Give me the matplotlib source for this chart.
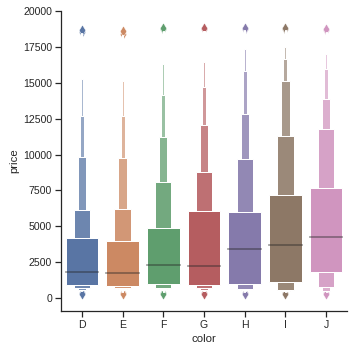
import colorsys
import matplotlib
matplotlib.use("Agg")
import matplotlib.pyplot as plt
import matplotlib.colors as mcolors

# ---- data ----
categories = ["D", "E", "F", "G", "H", "I", "J"]
medians = [1838, 1739, 2344, 2242, 3460, 3730, 4234]
# letter-value box ends, level 1 (quartiles) to level 6
upper_L1 = [4214, 4003, 4868, 6048, 5980, 7202, 7695]
lower_L1 = [911, 882, 982, 931, 984, 1120, 1860]
upper_L2 = [6130, 6220, 8076, 8770, 9673, 11270, 11757]
lower_L2 = [700, 700, 715, 715, 650, 576, 785]
upper_L3 = [9833, 9743, 11222, 12028, 12798, 15090, 13840]
lower_L3 = [610, 620, 620, 610, 576, 520, 507]
upper_L4 = [12660, 12660, 14138, 14694, 15784, 16618, 15923]
lower_L4 = [590, 600, 600, 590, 556, 500, 490]
upper_L5 = [15229, 15090, 16270, 16430, 17312, 17472, 16965]
lower_L5 = [570, 580, 580, 570, 536, 490, 480]
upper_L6 = [18420, 18330, 18620, 18620, 18640, 18640, 18550]
lower_L6 = [480, 470, 470, 480, 460, 440, 440]
n_levels = [8, 8, 8, 8, 9, 8, 8]
outliers_high = [
    [18490, 18650],
    [18400, 18560],
    [18700, 18770],
    [18700, 18790],
    [18720, 18780],
    [18720, 18800],
    [18630, 18700],
]
outliers_low = [
    [380, 330],
    [380, 330],
    [380, 330],
    [380, 330],
    [380, 330],
    [380, 330],
    [380, 330],
]
palette = ["#4C72B0", "#DD8452", "#55A868", "#C44E52", "#8172B3", "#937860", "#DA8BC3"]

# ---- style ----
plt.rcParams["font.family"] = ["Liberation Sans", "DejaVu Sans"]
DPI = 72
fig = plt.figure(figsize=(352 / DPI, 352 / DPI), dpi=DPI)
ax = fig.add_axes([0.1747, 0.1165, 0.8097, 0.8531])


def desaturate(c, prop):
    r, g, b = mcolors.to_rgb(c)
    h, l, s = colorsys.rgb_to_hls(r, g, b)
    return colorsys.hls_to_rgb(h, l, s * prop)


def mix_white(c, f):
    return tuple(ch + (1 - ch) * f for ch in c)


uppers = [upper_L1, upper_L2, upper_L3, upper_L4, upper_L5, upper_L6]
lowers = [lower_L1, lower_L2, lower_L3, lower_L4, lower_L5, lower_L6]

for i, cat in enumerate(categories):
    base = desaturate(palette[i], 0.75)
    k = n_levels[i]
    # outliers first (boxes are drawn over them)
    ys = outliers_low[i] + outliers_high[i]
    ax.scatter([i] * len(ys), ys, marker="d", s=60, color=base,
               edgecolor="white", linewidth=0.5, zorder=1)
    # outer levels first
    for lev in range(len(uppers) - 1, -1, -1):
        w = 0.8 * 0.5 ** lev
        f = 0.85 * lev / (k - 1)
        fc = "white" if lev == len(uppers) - 1 else mix_white(base, f)
        lo = lowers[lev][i]
        hi = uppers[lev][i]
        ax.bar(i, hi - lo, bottom=lo, width=w, color=fc,
               edgecolor="white", linewidth=1.0, zorder=2)
    ax.plot([i - 0.4, i + 0.4], [medians[i]] * 2, color=".15", alpha=0.45,
            lw=1.75, zorder=3, solid_capstyle="projecting")

ax.set_xlim(-0.5, 6.5)
ax.set_ylim(-880, 20000)
ax.set_xticks(range(len(categories)))
ax.set_xticklabels(categories)
ax.set_yticks([0, 2500, 5000, 7500, 10000, 12500, 15000, 17500, 20000])
ax.set_xlabel("color", fontsize=11.4, color=".15")
ax.set_ylabel("price", fontsize=11.4, color=".15")
ax.tick_params(axis="both", length=6, width=1.25, color=".15",
               labelsize=10.5, labelcolor=".15", direction="out")
for sp in ["top", "right"]:
    ax.spines[sp].set_visible(False)
for sp in ["left", "bottom"]:
    ax.spines[sp].set_linewidth(1.25)
    ax.spines[sp].set_color(".15")

fig.savefig("out.png", dpi=DPI)
